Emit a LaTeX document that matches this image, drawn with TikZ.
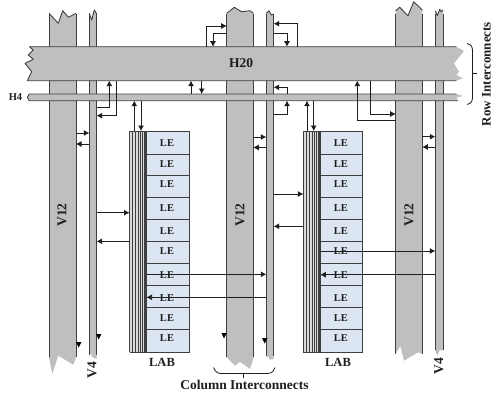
\documentclass[tikz,border=0pt]{standalone}
\usepackage{fontspec}
\setmainfont{Liberation Serif}
\usetikzlibrary{arrows.meta,decorations.pathreplacing}
\definecolor{railgray}{HTML}{BFBFBF}
\definecolor{raildark}{HTML}{3F3F3F}
\definecolor{lefill}{HTML}{DCE6F2}
\definecolor{inkdark}{HTML}{1E1E1E}
\definecolor{stripefill}{HTML}{DADADA}
\tikzset{
  railfill/.style={fill=railgray,draw=none},
  railedge/.style={draw=raildark,line width=0.9pt,line join=round},
  conn/.style={draw=inkdark,line width=0.75pt,-{Latex[length=5.5pt,width=6pt]}},
  tip/.style={fill=black,draw=none},
  lebox/.style={draw=raildark,line width=0.9pt,fill=lefill},
  lelabel/.style={font=\bfseries\fontsize{10.5}{12}\selectfont,text=inkdark,inner sep=0pt},
  biglabel/.style={font=\bfseries\fontsize{13.5}{15}\selectfont,text=inkdark,inner sep=0pt},
  midlabel/.style={font=\bfseries\fontsize{12.5}{14}\selectfont,text=inkdark,inner sep=0pt},
  bracket/.style={draw=inkdark,line width=0.8pt},
}
\newcommand{\lab}[3]{% #1 name, #2 left x, #3 right x of stripes
  \fill[stripefill] (#2,131) rectangle (#3,352);
  \foreach \d in {0,3.3,6.3,9,11.3,13.3,14.7,16,17}{
    \draw[raildark,line width=0.7pt] ({#2+\d},131) -- ({#2+\d},352);
  }
  \draw[raildark,line width=0.8pt] (#2,131) -- (#3,131) (#2,352) -- (#3,352);
  \foreach \a/\b in {131/154.5,154.5/175,175/197.3,197.3/219.3,219.3/241.3,241.3/263.3,263.3/285.3,285.3/307.5,307.5/329.5,329.5/352}{
    \draw[lebox] (#3,\a) rectangle ({#3+42.5},\b);
  }
  \foreach \i/\y in {1/143,2/164.5,3/184.5,4/208.5,5/231,6/251,7/275,8/298,9/318,10/338}{
    \node[lelabel] (#1le\i) at ({#3+20.5},\y) {LE};
  }
}
\begin{document}
\begin{tikzpicture}[x=1pt,y=-1pt]
\useasboundingbox (0,0) rectangle (493,394);
% vertical rails
\foreach \top/\bot in {
 {(49,13.3) -- (58.3,23.3) -- (62.7,10.7) -- (68.3,17.3) -- (76,13.3)}/{(76,357.3) -- (73.3,364.7) -- (58.3,355.7) -- (52.3,374) -- (49,357.3)},
 {(89.3,13.3) -- (91.7,20) -- (94.3,10) -- (96.7,14)}/{(96.7,359) -- (92.7,357.3) -- (91,354) -- (89.3,354)},
 {(226.7,13.3) -- (234.3,7.3) -- (241.7,11.7) -- (250,10.7) -- (253.3,13.3)}/{(253.3,359) -- (250,369) -- (240,361.7) -- (235,365.7) -- (226.7,357.3)},
 {(266.3,13.3) -- (269,10.7) -- (271.3,15) -- (273.7,14)}/{(273.7,359) -- (269.7,359.7) -- (269,357.3) -- (266.3,356.3)},
 {(395.7,10.7) -- (399.7,7.3) -- (408,15.7) -- (413.7,1.7) -- (422.3,10)}/{(422.3,354) -- (418,352.3) -- (404,360.7) -- (400.3,345.7) -- (395.7,354)},
 {(435.3,10.7) -- (437.3,15.7) -- (439.7,9.3) -- (441.3,11.7) -- (443,10)}/{(443,350.7) -- (439.7,350) -- (437.3,355.7) -- (435.3,350)}}{
  \fill[railgray] \top -- \bot -- cycle;
  \draw[railedge] \top;
}
\foreach \l/\r/\b in {49/76/357.3,89.3/96.7/355,226.7/253.3/357.3,266.3/273.7/356.3,395.7/422.3/354,435.3/443/350}{
  \draw[railedge] (\l,14) -- (\l,\b) (\r,14) -- (\r,\b);
}
% horizontal rails
\path[railfill] (29.3,46.7) -- (33.3,50) -- (28.3,55) -- (33.3,59.3) -- (25,63.3) -- (31.7,71.7) -- (27.3,80.7) -- (456.3,80.7) -- (463,78.3) -- (456.3,75) -- (459,71.7) -- (454,63.3) -- (464,51) -- (456.3,46.7) -- cycle;
\draw[railedge] (29.3,46.7) -- (33.3,50) -- (28.3,55) -- (33.3,59.3) -- (25,63.3) -- (31.7,71.7) -- (27.3,80.7) -- (456.3,80.7) (29.3,46.7) -- (456.3,46.7);
\path[railfill] (29.3,94) -- (27.3,97.3) -- (29.3,100.7) -- (458,100.7) -- (456.3,97.7) -- (463,96) -- (456.3,94) -- cycle;
\draw[railedge] (29.3,94) -- (27.3,97.3) -- (29.3,100.7) -- (458,100.7) (29.3,94) -- (456.3,94);
% LABs
\lab{a}{129.5}{146.5}
\lab{b}{303.3}{320.3}
% connectors
\draw[conn] (206.7,46.7) -- (206.7,26) -- (226.7,26);
\draw[conn] (226.7,33) -- (213,33) -- (213,46.7);
\draw[conn] (96.7,107.3) -- (109.3,107.3) -- (109.3,80.7);
\draw[conn] (116,80.7) -- (116,115.7) -- (96.7,115.7);
\draw[conn] (191,94) -- (191,80.7);
\draw[conn] (201.7,80.7) -- (201.7,94);
\draw[conn] (134.3,131) -- (134.3,100.7);
\draw[conn] (141,100.7) -- (141,131);
\draw[conn] (76,133) -- (89.3,133);
\draw[conn] (89.3,144) -- (76,144);
\draw[conn] (297,46.7) -- (297,23.7) -- (273.7,23.7);
\draw[conn] (273.7,33.7) -- (287,33.7) -- (287,46.7);
\draw[conn] (287,94) -- (287,87.3) -- (273.7,87.3);
\draw[conn] (273.7,114) -- (287,114) -- (287,100.7);
\draw[conn] (307,131) -- (307,100.7);
\draw[conn] (313.7,100.7) -- (313.7,131);
\draw[conn] (395.7,120.7) -- (357.3,120.7) -- (357.3,80.7);
\draw[conn] (370.7,80.7) -- (370.7,114) -- (395.7,114);
\draw[conn] (253.3,137) -- (266.3,137);
\draw[conn] (266.3,147.5) -- (253.3,147.5);
\draw[conn] (422.3,136.7) -- (435.3,136.7);
\draw[conn] (435.3,147) -- (422.3,147);
\draw[conn] (96.7,212.7) -- (129.5,212.7);
\draw[conn] (129.5,241.3) -- (96.7,241.3);
\draw[conn] (273.7,194) -- (303.3,194);
\draw[conn] (303.3,226.3) -- (273.7,226.3);
\draw[conn] (146.5,274.3) -- (266.3,274.3);
\draw[conn] (266.3,297.3) -- (146.5,297.3);
\draw[conn] (320.3,251) -- (435.3,251);
\draw[conn] (435.3,274.7) -- (320.3,274.7);
% loose tips
\fill[tip] (76,342) -- (81.5,342) -- (78.7,347.5) -- cycle;
\fill[tip] (96,334) -- (101.5,334) -- (98.7,339.5) -- cycle;
\fill[tip] (221.5,333) -- (226.7,333) -- (224,338.5) -- cycle;
\fill[tip] (262,338) -- (267.5,338) -- (264.7,343.5) -- cycle;
% labels
\node[biglabel] (h20) at (241,63.5) {H20};
\node[lelabel] (h4) at (15.5,97.5) {H4};
\node[biglabel,rotate=90] (va) at (62,215) {V12};
\node[biglabel,rotate=90] (vb) at (240,215) {V12};
\node[biglabel,rotate=90] (vc) at (409,215) {V12};
\node[biglabel,rotate=90] (ga) at (92,370) {V4};
\node[biglabel,rotate=90] (gb) at (438.7,366) {V4};
\node[midlabel] (laba) at (162,362) {LAB};
\node[midlabel] (labb) at (338,362) {LAB};
\node[biglabel] (col) at (244.5,385) {Column Interconnects};
\node[font=\bfseries\fontsize{13}{15}\selectfont,text=inkdark,inner sep=0pt,rotate=90] (row) at (486.5,74) {Row Interconnects};
% braces
\draw[bracket] (213.5,367.5) .. controls (216,373) and (218,373.5) .. (223,373.5) -- (265,373.5) .. controls (271,373.5) and (273,373) .. (275,367.5);
\draw[bracket] (243.7,373.5) -- (243.7,377.5);
\draw[bracket] (467,43.5) .. controls (472,45) and (472.5,47) .. (472.5,52) -- (472.5,96) .. controls (472.5,101) and (472,103) .. (467,104.5);
\draw[bracket] (472.5,73.5) -- (477,73.5);
\end{tikzpicture}
\end{document}
